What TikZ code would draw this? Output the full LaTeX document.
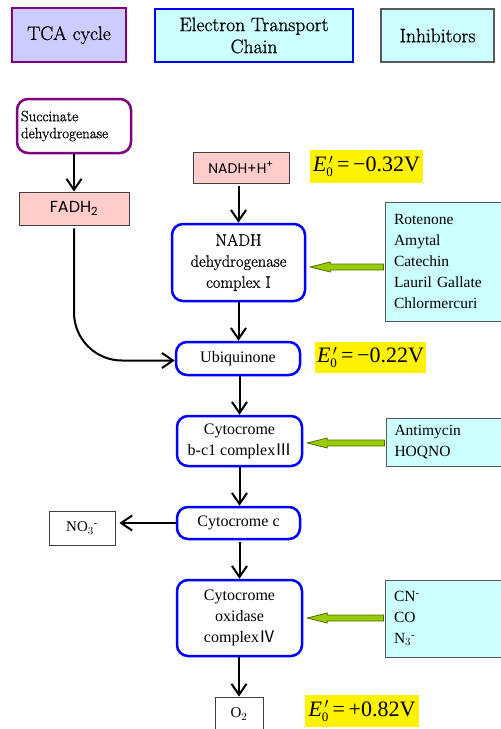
\documentclass[tikz,border=0pt]{standalone}
\usepackage{fontspec}
\usetikzlibrary{arrows.meta,calc}
\newfontfamily\tms{Liberation Serif}
\newfontfamily\gsans{Poppins}
\newfontfamily\cjk{Noto Sans CJK JP}
\newfontfamily\schb{Latin Modern Roman}[FakeBold=0.9]
\definecolor{lav}{HTML}{CCCCFF}
\definecolor{lcyan}{HTML}{CCFFFF}
\definecolor{lpink}{HTML}{FFCCCC}
\definecolor{purp}{HTML}{800080}
\definecolor{gfill}{HTML}{99CC00}
\definecolor{gline}{HTML}{4F6B00}
\newcommand{\Ezero}[1]{{\tms\fontsize{22}{24}\selectfont\textit{E}$^{\,\prime}_{\hbox{\tms\fontsize{13}{14}\selectfont 0}}$\,=\,#1V}}
\tikzset{
  hdr/.style={draw, line width=2.5pt, minimum height=53pt, inner sep=2pt, align=center,
    font=\schb\fontsize{19.5}{22}\selectfont},
  cplx/.style={draw=blue, line width=2.5pt, rounded corners=11pt, fill=white, align=center,
    inner sep=2pt, font=\tms\fontsize{16}{21}\selectfont},
  pinkbox/.style={draw=black!75, line width=0.8pt, fill=lpink, inner sep=2pt,
    font=\gsans\fontsize{14}{16}\selectfont},
  ybox/.style={fill=yellow, inner sep=2pt},
  inhbox/.style={draw=black!65, line width=1pt, fill=lcyan, align=left, inner sep=2pt,
    text width=100pt, font=\tms\fontsize{15.5}{21}\selectfont},
  plainbox/.style={draw=black!75, line width=0.8pt, fill=white, inner sep=2pt,
    font=\tms\fontsize{15}{17}\selectfont},
  arr/.style={draw, line width=2pt, -{Straight Barb[length=11pt,width=15pt,line width=2pt]}},
  garr/.style={draw=gline, line width=0.8pt, fill=gfill, line join=miter},
}
\begin{document}
\begin{tikzpicture}[x=1pt,y=-1pt]
\useasboundingbox (0,0) rectangle (501,729);
% headers
\node[hdr, draw=purp, fill=lav, minimum width=114pt, minimum height=54pt] (tca) at (69,35) {TCA cycle};
\node[hdr, draw=blue, fill=lcyan, minimum width=198pt] (etc) at (254,35.5) {Electron Transport\\Chain};
\node[hdr, draw=black!65, line width=1.2pt, fill=lcyan, minimum width=113pt] (inh) at (437.5,35.5) {Inhibitors};
% TCA side
\node[draw=purp, line width=2.5pt, rounded corners=11pt, fill=white, minimum width=114pt, minimum height=54pt,
  text width=106pt, align=left, inner sep=3pt, font=\schb\fontsize{15}{17}\selectfont] (sdh) at (74,126)
  {Succinate\\dehydrogenase\\[-6pt]};
\node[pinkbox, minimum width=110pt, minimum height=33pt, font=\gsans\fontsize{16}{18}\selectfont] (fadh) at (74,208.5) {FADH\textsubscript{2}};
% main chain
\node[pinkbox, minimum width=96pt, minimum height=31pt] (nadh) at (241,167.5) {NADH+H\textsuperscript{+}};
\node[ybox, minimum width=113pt, minimum height=33pt] (e1) at (366.5,166.5) {\Ezero{−0.32}};
\node[cplx, minimum width=133pt, minimum height=77pt, font=\schb\fontsize{16.5}{21}\selectfont] (c1) at (238.5,262.5) {NADH\\dehydrogenase\\complex I};
\node[inhbox, minimum width=118pt, minimum height=119pt] (rot) at (444,261.5)
  {Rotenone\\Amytal\\Catechin\\Lauril Gallate\\Chlormercuri};
\node[cplx, minimum width=124pt, minimum height=33pt] (ubi) at (238,358.5) {Ubiquinone};
\node[ybox, minimum width=109pt, minimum height=31pt] (e2) at (370.5,357.5) {\Ezero{−0.22}};
\node[cplx, minimum width=125pt, minimum height=50pt] (c3) at (239.5,441) {Cytocrome\\b-c1 complex{\cjk Ⅲ}};
\node[inhbox, minimum width=117pt, minimum height=48pt] (anti) at (444.5,442) {Antimycin\\HOQNO};
\node[cplx, minimum width=123pt, minimum height=32pt] (cc) at (238.5,523) {Cytocrome c};
\node[plainbox, minimum width=66pt, minimum height=34pt] (no3) at (82,528) {NO$_3$\textsuperscript{-}};
\node[cplx, minimum width=125pt, minimum height=76pt] (c4) at (239.5,618) {Cytocrome\\oxidase\\complex{\cjk Ⅳ}};
\node[inhbox, minimum width=118pt, minimum height=77pt] (cn) at (444,618.5) {CN\textsuperscript{-}\\CO\\N$_3$\textsuperscript{-}};
\node[plainbox, minimum width=48pt, minimum height=34pt] (o2) at (239,714) {O$_2$};
\node[ybox, minimum width=114pt, minimum height=32pt] (e3) at (362,711) {\Ezero{+0.82}};
% black arrows
\draw[arr] (sdh.south -| fadh.north) -- (fadh.north);
\draw[arr, shorten <=3pt] (c1.north |- nadh.south) -- (c1.north);
\draw[arr] (c1.south) -- (c1.south |- ubi.north);
\draw[arr, rounded corners=48pt, shorten <=3pt] (fadh.south) |- ($(ubi.west)+(0,2)$);
\draw[arr] (c3.north |- ubi.south) -- (c3.north);
\draw[arr] (c3.south) -- (c3.south |- cc.north);
\draw[arr] (cc.west) -- ($(cc.west -| no3.east)+(4,0)$);
\draw[arr, shorten <=2pt] (c4.north |- cc.south) -- (c4.north);
\draw[arr] (c4.south -| o2.north) -- (o2.north);
% green inhibitor arrows
\foreach \cpx/\inb/\dy in {c1/rot/4.5, c3/anti/2, c4/cn/0}{
  \coordinate (t) at ($(\cpx.east)+(4,\dy)$);
  \coordinate (s) at (\inb.west |- t);
  \draw[garr] (t) -- ($(t)+(20,-5)$) -- ($(t)+(20,-3)$) -- ($(s)+(-1,-3)$) -- ($(s)+(-1,3)$)
    -- ($(t)+(20,3)$) -- ($(t)+(20,5)$) -- cycle;
}
\end{tikzpicture}
\end{document}
